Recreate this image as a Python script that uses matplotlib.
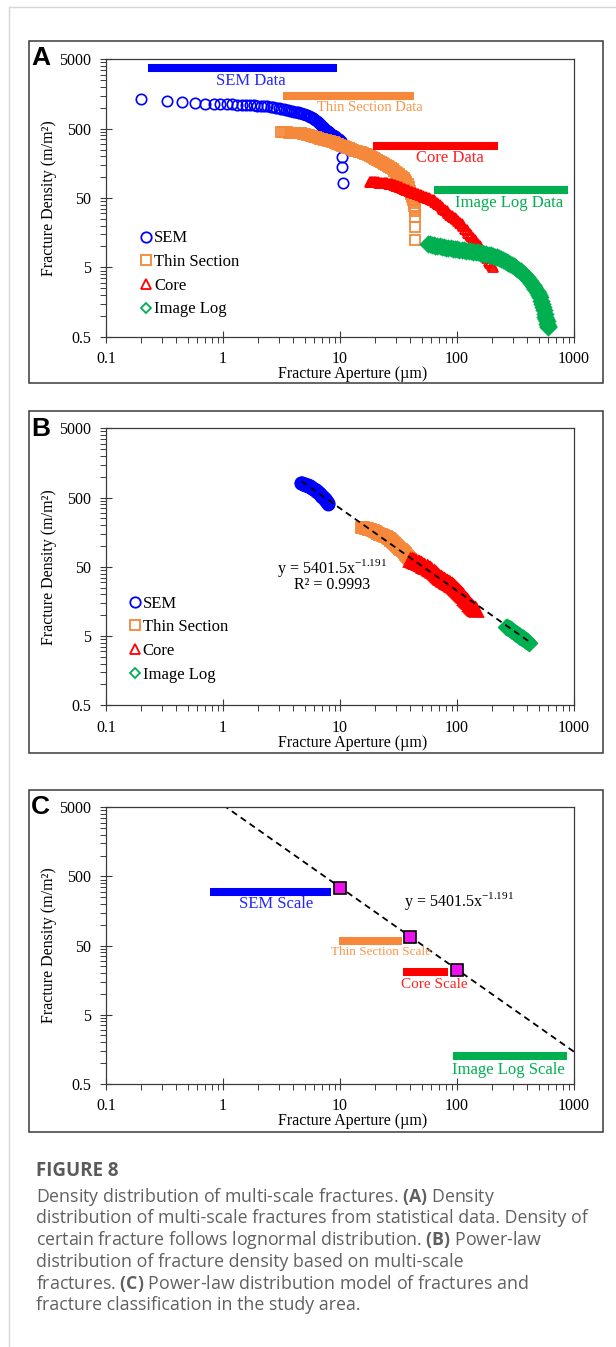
import matplotlib
matplotlib.use("Agg")
import matplotlib.pyplot as plt
from matplotlib.ticker import FixedLocator, FixedFormatter, NullFormatter
from matplotlib.patches import Rectangle
from matplotlib.lines import Line2D

plt.rcParams['font.family'] = ['Liberation Serif', 'DejaVu Serif']
plt.rcParams['mathtext.fontset'] = 'custom'
plt.rcParams['mathtext.rm'] = 'Liberation Serif'
plt.rcParams['mathtext.bf'] = 'Open Sans:bold'

# ---------------------------------------------------------
# data
# ---------------------------------------------------------
x_ticks = [0.1, 1, 10, 100, 1000]
x_labels = ["0.1", "1", "10", "100", "1000"]
y_ticks = [0.5, 5, 50, 500, 5000]
y_labels = ["0.5", "5", "50", "500", "5000"]

series_names = ["SEM", "Thin Section", "Core", "Image Log"]

# panel A - statistical data, (aperture um, density m/m2)
sem_a = [(0.2, 1360), (0.33, 1250), (0.45, 1230), (0.58, 1160), (0.7, 1150), (0.83, 1140),
         (0.95, 1130), (1.08, 1120), (1.2, 1115), (1.33, 1105), (1.45, 1100), (1.58, 1095),
         (1.7, 1090), (1.83, 1080), (1.95, 1075), (2.1, 1065), (2.25, 1055), (2.4, 1045),
         (2.55, 1035), (2.7, 1020), (2.85, 1000), (3.0, 985), (3.15, 965), (3.3, 948),
         (3.45, 932), (3.6, 918), (3.75, 905), (3.9, 893), (4.05, 882), (4.2, 872),
         (4.35, 861), (4.5, 850), (4.65, 836), (4.8, 822), (4.95, 808), (5.1, 790),
         (5.25, 775), (5.4, 760), (5.55, 743), (5.7, 727), (5.85, 710), (6.0, 690),
         (6.15, 668), (6.3, 645), (6.45, 622), (6.6, 600), (6.75, 580), (6.9, 562),
         (7.05, 545), (7.2, 528), (7.35, 511), (7.5, 495), (7.65, 482), (7.8, 468),
         (7.95, 455), (8.1, 443), (8.25, 432), (8.4, 421), (8.55, 411), (8.7, 402),
         (8.85, 394), (9.0, 386), (9.15, 379), (9.3, 372), (9.45, 365), (9.6, 358),
         (9.75, 351), (9.9, 344), (10.05, 337), (10.2, 327), (10.35, 310),
         (10.5, 197), (10.5, 141), (10.6, 82)]

thin_a = [(3.12, 445), (3.25, 444), (3.4, 443), (3.55, 442), (3.7, 440), (3.85, 439),
          (4.0, 437), (4.15, 435), (4.3, 433), (4.45, 431), (4.6, 428), (4.8, 422),
          (5.0, 415), (5.2, 409), (5.4, 402), (5.6, 396), (5.8, 389), (6.0, 382),
          (6.25, 374), (6.5, 367), (6.75, 360), (7.0, 354), (7.3, 347), (7.6, 341),
          (7.9, 336), (8.2, 331), (8.5, 325), (8.8, 318), (9.1, 310), (9.4, 303),
          (9.7, 296), (10.0, 290), (10.4, 284), (10.8, 278), (11.2, 272), (11.6, 266),
          (12.0, 259), (12.5, 253), (13.0, 247), (13.5, 241), (14.0, 236), (14.5, 231),
          (15.0, 227), (15.6, 222), (16.2, 217), (16.8, 212), (17.4, 207), (18.0, 202),
          (18.7, 197), (19.4, 191), (20.1, 185), (20.8, 178), (21.5, 172), (22.3, 166),
          (23.1, 160), (23.9, 155), (24.7, 151), (25.5, 147), (26.4, 142), (27.3, 136),
          (28.2, 130), (29.1, 124), (30.0, 120), (31.0, 115), (32.0, 110), (33.0, 105),
          (34.0, 101), (35.0, 96), (36.0, 90), (37.0, 85), (38.0, 79), (39.0, 72),
          (40.0, 64), (40.8, 58), (41.5, 52), (42.2, 47), (42.8, 42), (43.2, 38),
          (43.5, 35), (43.6, 32), (43.6, 27), (43.6, 19.3), (43.8, 12.4)]

core_a = [(18.0, 86), (18.4, 86), (18.8, 85.5), (19.2, 85), (19.6, 85), (20.0, 84.5),
          (20.5, 84), (21.0, 84), (21.5, 83.5), (22.0, 83), (22.5, 83), (23.0, 82.5),
          (23.6, 82), (24.2, 82), (24.8, 81.5), (25.4, 81), (26.0, 80.5), (26.7, 80),
          (27.4, 79), (28.1, 78.5), (28.8, 78), (29.6, 77), (30.4, 75.5), (31.2, 74.5),
          (32.0, 73), (33.0, 71), (34.0, 69.5), (35.0, 68), (36.0, 66.5), (37.0, 65.5),
          (38.0, 64.5), (39.2, 63), (40.4, 62), (41.6, 61), (42.8, 60), (44.0, 58.5),
          (45.4, 57.5), (46.8, 56.5), (48.2, 55.5), (49.6, 54.5), (51.0, 53.5),
          (52.6, 52.5), (54.2, 51.5), (55.8, 50.5), (57.4, 49.5), (59.0, 48.5),
          (61.0, 47.5), (63.0, 46.5), (65.0, 44.5), (67.0, 43), (69.0, 41), (71.5, 39),
          (74.0, 37), (76.5, 35), (79.0, 33.5), (81.5, 32), (84.0, 30.5), (87.0, 28.5),
          (90.0, 27.5), (93.0, 26.5), (96.0, 25.5), (99.0, 24.5), (102.5, 23), (106, 22),
          (109.5, 21), (113, 19.5), (117, 18), (121, 17), (125, 15.8), (129, 15),
          (133, 14), (137.5, 13.2), (142, 12.3), (146.5, 11.5), (151, 10.8), (156, 10),
          (161, 9.3), (166, 8.6), (171, 8), (176.5, 7.4), (182, 6.8), (187.5, 6.2),
          (193, 5.7), (198, 5.4), (203, 5.1)]

img_a = [(57, 10.9), (59, 10.7), (61, 10.5), (63, 10.4), (65, 10.3), (68, 10.1), (71, 10.0),
         (74, 9.9), (77, 9.75), (80, 9.65), (84, 9.5), (88, 9.4), (92, 9.3), (96, 9.2),
         (100, 9.1), (105, 9.0), (110, 8.9), (115, 8.8), (120, 8.7), (126, 8.6), (132, 8.5),
         (138, 8.4), (144, 8.3), (150, 8.25), (157, 8.1), (164, 8.0), (171, 7.9), (178, 7.8),
         (186, 7.65), (194, 7.5), (202, 7.3), (210, 7.15), (219, 7.0), (228, 6.8), (237, 6.6),
         (246, 6.4), (255, 6.2), (265, 6.0), (275, 5.8), (285, 5.6), (295, 5.4), (305, 5.2),
         (316, 5.0), (327, 4.8), (338, 4.6), (349, 4.4), (360, 4.2), (372, 4.0), (384, 3.8),
         (396, 3.6), (408, 3.4), (420, 3.2), (432, 3.0), (444, 2.8), (456, 2.6), (468, 2.4),
         (480, 2.25), (492, 2.15), (504, 2.0), (515, 1.85), (525, 1.65), (535, 1.5),
         (544, 1.35), (553, 1.2), (561, 1.08), (569, 0.97), (576, 0.9), (583, 0.83),
         (589, 0.77), (595, 0.72), (600, 0.68)]

# data range bars in panel A
range_a_names = ["SEM Data", "Thin Section Data", "Core Data", "Image Log Data"]
range_a_x0 = [0.227, 3.24, 19.0, 63.5]
range_a_x1 = [9.5, 42.5, 225, 893]
range_a_y = [3750, 1500, 284, 65]

# panel B - selected points and the power-law fit
sem_b = [(4.6, 820), (4.68, 810), (4.75, 800), (4.83, 792), (4.9, 785), (4.98, 777),
         (5.05, 770), (5.13, 762), (5.2, 755), (5.28, 747), (5.35, 740), (5.43, 732),
         (5.5, 725), (5.58, 715), (5.65, 705), (5.73, 695), (5.8, 685), (5.88, 675),
         (5.95, 665), (6.03, 655), (6.1, 645), (6.18, 635), (6.25, 625), (6.33, 615),
         (6.4, 605), (6.48, 595), (6.55, 585), (6.63, 575), (6.7, 565), (6.78, 555),
         (6.85, 545), (6.93, 535), (7.0, 525), (7.08, 515), (7.15, 505), (7.23, 495),
         (7.3, 485), (7.38, 475), (7.45, 465), (7.53, 455), (7.6, 445), (7.68, 435),
         (7.75, 425), (7.83, 412), (7.9, 400)]

thin_b = [(15.0, 190), (15.4, 188), (15.8, 186), (16.2, 184), (16.6, 182), (17.0, 180),
          (17.4, 178), (17.8, 175.5), (18.2, 173), (18.6, 170.5), (19.0, 168), (19.45, 165),
          (19.9, 162), (20.35, 159), (20.8, 156), (21.25, 153.5), (21.7, 151), (22.15, 149),
          (22.6, 147), (23.05, 145), (23.5, 143), (24.0, 140.5), (24.5, 138), (25.0, 135),
          (25.5, 132), (26.0, 129), (26.5, 126), (27.0, 123), (27.5, 120), (28.05, 116.5),
          (28.6, 113), (29.15, 109.5), (29.7, 106), (30.25, 103), (30.8, 100), (31.4, 97),
          (32.0, 94), (32.6, 91.5), (33.2, 89), (33.8, 86.5), (34.4, 84), (35.0, 81.5),
          (35.6, 79), (36.2, 76.5), (36.8, 74), (37.4, 72), (38.0, 70), (38.6, 68),
          (39.2, 66), (39.8, 64), (40.4, 62)]

core_b = [(40, 63), (41, 62), (42, 61), (43, 60), (44, 59), (45, 58), (46, 57), (47, 56),
          (48, 55), (49, 54), (50, 53), (51.2, 52), (52.5, 51), (53.7, 50), (55, 49),
          (56.2, 48), (57.5, 47), (58.7, 46), (60, 45), (61.5, 43.5), (63, 42), (64.5, 40.7),
          (66, 39.5), (67.5, 38.2), (69, 37), (70.5, 36), (72, 35), (73.5, 34.2), (75, 33.5),
          (76.5, 32.7), (78, 32), (79.5, 31.2), (81, 30.5), (82.5, 30), (84, 29.5),
          (85.5, 29), (87, 28.5), (88.5, 27.7), (90, 27), (92, 26.2), (94, 25.5), (96, 24.6),
          (98, 23.8), (100, 23), (102, 22.2), (104, 21.5), (106, 20.8), (108, 20.1),
          (110, 19.5), (112.5, 18.7), (115, 18), (117.5, 17.3), (120, 16.6), (122.5, 15.9),
          (125, 15.3), (127.5, 14.7), (130, 14.2), (132.5, 13.7), (135, 13.2), (137.5, 12.8),
          (140, 12.4), (142.5, 12.1), (145, 11.8)]

img_b = [(262, 6.8), (267, 6.7), (272, 6.6), (277, 6.47), (282, 6.35), (287, 6.22),
         (292, 6.1), (297, 5.97), (302, 5.85), (307, 5.72), (312, 5.6), (317, 5.5),
         (322, 5.4), (327, 5.3), (332, 5.2), (337, 5.1), (342, 5.0), (347, 4.92),
         (352, 4.85), (357, 4.77), (362, 4.7), (367, 4.62), (372, 4.55), (377, 4.47),
         (382, 4.4), (387, 4.32), (392, 4.25), (397, 4.18), (402, 4.12), (406, 4.06),
         (410, 4.0)]

fit_b_x = [4.7, 410]
fit_b_y = [860, 4.2]
fit_text = "y = 5401.5x$^{\\mathrm{-1.191}}$"
r2_text = "R\u00b2 = 0.9993"

# panel C - scale classification
fit_c_x = [1.0, 1000]
fit_c_y = [5400, 1.45]
pts_c_x = [10, 40, 100]
pts_c_y = [340, 66, 22]

scale_names = ["SEM Scale", "Thin Section Scale", "Core Scale", "Image Log Scale"]
scale_x0 = [0.78, 9.8, 34.4, 92.7]
scale_x1 = [8.4, 34.0, 84.5, 871]
scale_y = [300, 58.6, 21, 1.27]

caption_title = "FIGURE 8"
caption_lines = [
    "Density distribution of multi-scale fractures. $\\mathbf{(A)}$ Density",
    "distribution of multi-scale fractures from statistical data. Density of",
    "certain fracture follows lognormal distribution. $\\mathbf{(B)}$ Power-law",
    "distribution of fracture density based on multi-scale",
    "fractures. $\\mathbf{(C)}$ Power-law distribution model of fractures and",
    "fracture classification in the study area.",
]

BLUE = "#0000FF"
ORANGE = "#F5883A"
RED = "#FF0000"
GREEN = "#00B050"
MAGENTA = "#EE10EE"
colors = [BLUE, ORANGE, RED, GREEN]
text_colors = ["#2525FF", "#F79646", "#FF2020", "#00B050"]
markers = ["o", "s", "^", "D"]

W, H = 616, 1347


def px_box(left, top, right, bottom):
    return [left / W, 1 - bottom / H, (right - left) / W, (bottom - top) / H]


def xy(pairs):
    return [p[0] for p in pairs], [p[1] for p in pairs]


def style_axes(ax):
    ax.set_xscale("log")
    ax.set_yscale("log")
    ax.set_xlim(0.1, 1000)
    ax.set_ylim(0.5, 5000)
    ax.xaxis.set_major_locator(FixedLocator(x_ticks))
    ax.xaxis.set_major_formatter(FixedFormatter(x_labels))
    ax.yaxis.set_major_locator(FixedLocator(y_ticks))
    ax.yaxis.set_major_formatter(FixedFormatter(y_labels))
    ax.xaxis.set_minor_locator(FixedLocator([k * 10.0 ** n for n in range(-1, 3) for k in range(2, 10)]))
    ax.yaxis.set_minor_locator(FixedLocator([0.5 * k * 10.0 ** n for n in range(4) for k in range(2, 10)]))
    ax.xaxis.set_minor_formatter(NullFormatter())
    ax.yaxis.set_minor_formatter(NullFormatter())
    for s in ax.spines.values():
        s.set_color("#3a3a3a")
        s.set_linewidth(0.9)
    ax.tick_params(which="major", direction="inout", length=8, width=0.8,
                   color="#3a3a3a", labelsize=11.5, pad=6.5)
    ax.tick_params(which="minor", direction="out", length=4, width=0.7, color="#3a3a3a")
    ax.set_xlabel("Fracture Aperture (\u00b5m)", fontsize=11.5)
    ax.set_ylabel("Fracture Density (m/m\u00b2)", fontsize=11.5)
    ax.xaxis.label.set_va("center")
    ax.yaxis.label.set_va("center")
    ax.xaxis.set_label_coords(0.528, -0.135)
    ax.yaxis.set_label_coords(-0.122, 0.5)


def add_legend(ax, x, y):
    handles = [Line2D([], [], marker=m, ls="none", mfc="none", mec=c, ms=s, mew=1.3)
               for m, c, s in zip(markers, colors, [7.5, 6.5, 7.5, 5.5])]
    ax.legend(handles, series_names, loc="upper left", bbox_to_anchor=(x, y),
              frameon=False, fontsize=12, borderpad=0, borderaxespad=0,
              handlelength=0.5, handletextpad=0.2, labelspacing=0.46)


fig = plt.figure(figsize=(W / 100, H / 100), dpi=100)

# page frame lines and panel boxes
fig.add_artist(Line2D([9 / W, 9 / W], [0, 1 - 7 / H], transform=fig.transFigure,
                      color="#d6d6d6", lw=1))
fig.add_artist(Line2D([9 / W, 1], [1 - 7 / H, 1 - 7 / H], transform=fig.transFigure,
                      color="#d6d6d6", lw=1))
for top, bottom in [(41, 383), (411, 753), (790, 1132)]:
    b = px_box(29, top, 603, bottom)
    fig.add_artist(Rectangle((b[0], b[1]), b[2], b[3], transform=fig.transFigure,
                             fill=False, ec="#3a3a3a", lw=1.1))

axA = fig.add_axes(px_box(106, 59.3, 574, 336.7))
axB = fig.add_axes(px_box(106, 428.3, 574, 705.3))
axC = fig.add_axes(px_box(106, 807.3, 574, 1083.7))
for ax in (axA, axB, axC):
    style_axes(ax)

for letter, top in [("A", 58), ("B", 428.5), ("C", 807.5)]:
    fig.text(31 / W, 1 - top / H, letter, fontsize=19, fontweight="bold",
             family="Liberation Sans", va="center", ha="left")

# ---------------- panel A ----------------
for pairs, m, c, ms, mew in zip([sem_a, thin_a, core_a, img_a], markers, colors,
                                [7.5, 6.5, 7.5, 7], [1.2, 1.3, 1.3, 2.2]):
    px, py = xy(pairs)
    axA.plot(px, py, m, ms=ms, mfc="none", mec=c, mew=mew, ls="none")

axA.hlines(range_a_y, range_a_x0, range_a_x1, colors=colors, lw=5.8, capstyle="butt")
label_a_pos = [(1.72, 2430), (18.0, 1000), (86.9, 187), (277, 42.8)]
label_a_size = [12, 10.5, 12, 12]
for name, (lx, ly), c, fs in zip(range_a_names, label_a_pos, text_colors, label_a_size):
    axA.text(lx, ly, name, color=c, fontsize=fs, ha="center", va="center")
add_legend(axA, 0.0774, 0.383)

# ---------------- panel B ----------------
for pairs, m, c, ms in zip([sem_b, thin_b, core_b, img_b], markers, colors, [8, 7.5, 8, 7]):
    px, py = xy(pairs)
    axB.plot(px, py, m, ms=ms, mfc="none", mec=c, mew=2.0, ls="none")
axB.plot(fit_b_x, fit_b_y, ls=(0, (3.5, 2.5)), color="black", lw=1.3)
axB.text(8.55, 48.5, fit_text, fontsize=11.5, ha="center", va="center")
axB.text(8.55, 27.3, r2_text, fontsize=11.5, ha="center", va="center")
add_legend(axB, 0.0538, 0.396)

# ---------------- panel C ----------------
axC.plot(fit_c_x, fit_c_y, ls=(0, (3.5, 2.5)), color="black", lw=1.3)
axC.hlines(scale_y, scale_x0, scale_x1, colors=colors, lw=5.8, capstyle="butt")
axC.plot(pts_c_x, pts_c_y, "s", ms=8, mfc=MAGENTA, mec="black", mew=1.2, ls="none")
label_c_pos = [(2.84, 201), (22.3, 39.7), (63.4, 13.5), (275, 0.80)]
label_c_size = [12, 9.5, 11, 12]
for name, (lx, ly), c, fs in zip(scale_names, label_c_pos, text_colors, label_c_size):
    axC.text(lx, ly, name, color=c, fontsize=fs, ha="center", va="center")
axC.text(35.3, 217, fit_text, fontsize=11.5, ha="left", va="center")

# ---------------- caption ----------------
fig.text(36 / W, 1 - 1170.7 / H, caption_title, fontsize=13.5, fontweight="bold",
         family="Open Sans", color="#5a5a5a", va="center", ha="left")
for i, line in enumerate(caption_lines):
    fig.text(36 / W, 1 - (1196.7 + 21.7 * i) / H, line, fontsize=12.8,
             family="Open Sans", color="#606060", va="center", ha="left")

fig.savefig("out.png", dpi=100)
